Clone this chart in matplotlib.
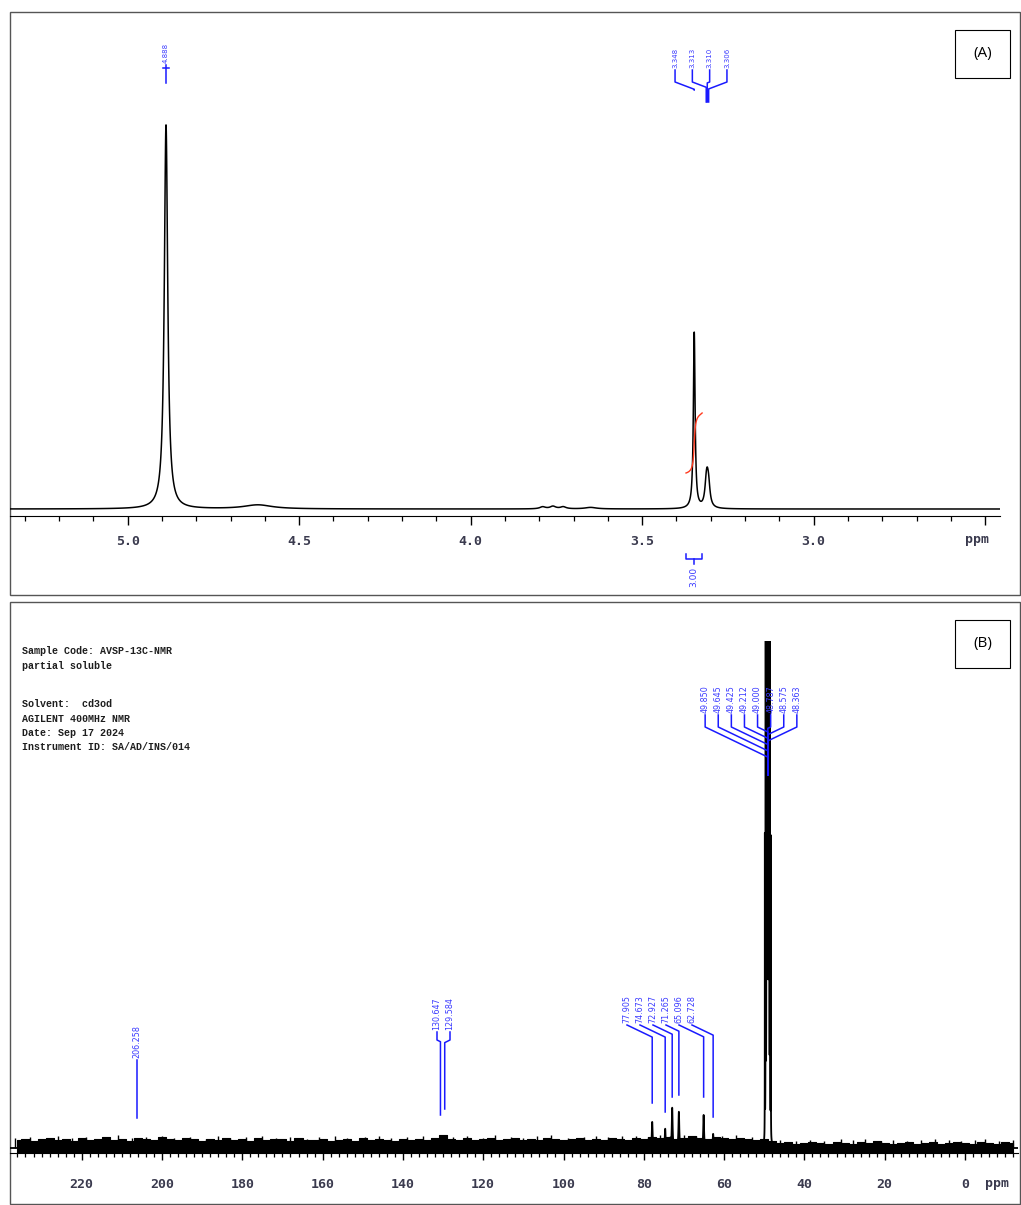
import numpy as np
import matplotlib.pyplot as plt
from matplotlib.patches import Rectangle
from matplotlib.ticker import FixedLocator, MultipleLocator

plt.rcParams["path.simplify"] = False

W, H = 1021, 1205

# ---------------- 1H spectrum (A) ----------------
h_shift = [4.888, 4.620, 3.790, 3.760, 3.730, 3.650, 3.348, 3.313, 3.310, 3.306]
h_height = [384, 4, 2, 2.5, 2, 1.5, 176, 17, 18, 17]
h_hwhm = [0.006, 0.05, 0.01, 0.01, 0.01, 0.02, 0.003, 0.005, 0.005, 0.005]
h_single = [4.888]
h_group = [3.348, 3.313, 3.310, 3.306]
h_ticks = [5.0, 4.5, 4.0, 3.5, 3.0, 2.5]
h_ticklabels = ["5.0", "4.5", "4.0", "3.5", "3.0", ""]
int_range = (3.372, 3.325)
int_value = "3.00"

# ---------------- 13C spectrum (B) ----------------
c_shift = [206.258, 130.647, 129.584, 77.905, 74.673, 72.927, 71.265, 65.096, 62.728]
c_height = [5, 6, 11, 26, 19, 40, 36, 33, 14]
c_solvent = [49.850, 49.645, 49.425, 49.212, 49.000, 48.787, 48.575, 48.363]
c_solvent_h = [300, 1200, 3000, 5000, 5000, 3000, 1200, 300]
c_ticks = [220, 200, 180, 160, 140, 120, 100, 80, 60, 40, 20, 0]

# baseline noise envelope, every 2 ppm from 236 to -12
noise_ppm = np.arange(236, -13, -2)
noise_top = [8, 9, 7, 9, 10, 8, 9, 7, 10, 8,
             9, 11, 8, 9, 7, 10, 9, 8, 11, 9,
             8, 10, 9, 7, 9, 8, 10, 8, 9, 7,
             10, 8, 9, 9, 7, 10, 8, 8, 9, 7,
             8, 9, 7, 10, 8, 9, 8, 7, 9, 8,
             9, 8, 10, 13, 9, 8, 10, 8, 9, 10,
             8, 9, 10, 8, 9, 8, 10, 9, 8, 9,
             10, 8, 9, 8, 10, 9, 8, 10, 9, 11,
             10, 11, 9, 10, 12, 10, 9, 11, 10, 9,
             10, 9, 8, 9, 7, 5, 6, 4, 5, 6,
             5, 4, 6, 5, 4, 6, 5, 7, 5, 4,
             5, 6, 4, 5, 6, 4, 5, 6, 5, 4,
             6, 5, 4, 6, 5]
noise_bot = [-7, -6, -8, -7, -6, -8, -7, -7, -6, -8,
             -7, -8, -6, -7, -8, -7, -6, -8, -7, -7,
             -8, -6, -7, -7, -8, -6, -7, -8, -7, -6,
             -7, -8, -7, -6, -8, -7, -7, -8, -6, -7,
             -8, -7, -6, -8, -7, -7, -8, -6, -7, -8,
             -7, -8, -7, -6, -8, -7, -8, -7, -7, -8,
             -8, -7, -8, -7, -8, -9, -7, -8, -8, -7,
             -8, -9, -7, -8, -8, -7, -9, -8, -8, -9,
             -8, -7, -9, -8, -8, -9, -7, -8, -9, -8,
             -9, -10, -9, -10, -11, -10, -9, -11, -10, -11,
             -10, -11, -10, -11, -10, -11, -10, -11, -11, -10,
             -11, -10, -11, -10, -11, -10, -11, -10, -11, -10,
             -11, -10, -11, -10, -11]
# individual noise spikes sticking out of the band
spike_up_ppm = [236.5, 233, 230, 226, 222.5, 219, 215, 211, 207.5, 204,
                200, 197, 193, 189, 186, 183, 179, 175, 171.5, 168,
                164, 161, 157, 154, 149.5, 146, 143, 139, 135, 131,
                127.5, 124, 120, 117, 113, 110, 106.5, 103, 99, 95,
                92, 89, 85.5, 82, 79, 76, 73.5, 70, 67, 60.5,
                57, 53, 46, 42, 38.5, 35, 31, 28, 25, 21,
                18, 14.5, 11, 7.5, 4, 1, -2.5, -5, -8.5, -12]
spike_up_h = [10, 11, 9, 12, 10, 11, 9, 13, 10, 11,
              12, 10, 11, 9, 12, 10, 11, 12, 10, 11,
              9, 11, 12, 10, 11, 12, 10, 11, 12, 10,
              11, 12, 10, 13, 11, 10, 12, 13, 10, 11,
              12, 11, 12, 12, 11, 13, 12, 13, 12, 12,
              13, 11, 8, 7, 8, 7, 9, 8, 9, 7,
              8, 7, 8, 9, 8, 7, 8, 9, 7, 8]
spike_dn_ppm = [234, 231, 228, 224, 216, 213, 209, 202, 198, 194,
                190, 184, 180, 177, 171, 166, 162, 159, 152, 148,
                144, 140, 134, 128, 125, 122, 115, 111, 105, 101,
                97, 93, 90, 84, 78, 74, 69, 63, 58, 55,
                44, 40, 33, 29, 24, 21, 16, 10, 6, 2,
                0, -4, -7, -11]
spike_dn_h = [-10, -9, -11, -10, -11, -9, -10, -10, -9, -11,
              -10, -11, -9, -10, -11, -10, -9, -11, -10, -9,
              -11, -10, -11, -10, -9, -11, -10, -11, -10, -12,
              -11, -10, -12, -11, -12, -11, -12, -12, -11, -12,
              -13, -12, -13, -12, -13, -13, -12, -13, -12, -13,
              -12, -13, -12, -13]

info_lines = ["Sample Code: AVSP-13C-NMR", "partial soluble",
              "Solvent:  cd3od", "AGILENT 400MHz NMR", "Date: Sep 17 2024",
              "Instrument ID: SA/AD/INS/014"]

BLUE_LINE = "#1a1aff"
BLUE_TEXT = "#3b3bff"
TICK_COL = "#3a3a4e"


def lorentz(x, shifts, heights, widths):
    y = np.zeros_like(x)
    for s, h, w in zip(shifts, heights, widths):
        y += h / (1 + ((x - s) / w) ** 2)
    return y


def frac(left, top, right, bottom):
    return [left / W, 1 - bottom / H, (right - left) / W, (bottom - top) / H]


# pixel <-> ppm maps for the two panels
def a_px(p):
    return 127.6 + (5.0 - p) * 343.0


def a_ppm(px):
    return 5.0 - (px - 127.6) / 343.0


def b_px(p):
    return 965.0 - p * 4.015


def b_ppm(px):
    return (965.0 - px) / 4.015


def fan(ax, to_px, to_ppm, base, peaks, center, step, y_txt, y_knee, slope, y_end, fs,
        target=None):
    n = len(peaks)
    for i, p in enumerate(peaks):
        lx = center + (i - (n - 1) / 2) * step
        tp = p if target is None else target
        pk = to_px(tp)
        ye = y_end[i] if np.ndim(y_end) else y_end
        ax.text(to_ppm(lx), base - y_txt, f"{p:.3f}", rotation=90, ha="center", va="bottom",
                fontsize=fs, color=BLUE_TEXT, clip_on=False, zorder=4)
        yk2 = y_knee + abs(pk - lx) * slope
        ax.plot([to_ppm(lx), to_ppm(lx), tp, tp],
                [base - y_txt - 2, base - y_knee, base - yk2, base - ye],
                color=BLUE_LINE, lw=1.1, clip_on=False, zorder=4)


def style_axis(ax, pad, lmaj, lmin):
    for s in ["top", "left", "right"]:
        ax.spines[s].set_visible(False)
    ax.spines["bottom"].set_color("black")
    ax.set_yticks([])
    ax.set_facecolor("none")
    ax.tick_params(axis="x", which="major", length=lmaj, width=1.0, pad=pad,
                   labelsize=9.5, labelcolor=TICK_COL)
    ax.tick_params(axis="x", which="minor", length=lmin, width=0.9)
    for t in ax.get_xticklabels():
        t.set_fontfamily("DejaVu Sans Mono")
        t.set_fontweight("bold")


fig = plt.figure(figsize=(W / 100, H / 100), dpi=100)

over = fig.add_axes([0, 0, 1, 1])
over.set_xlim(0, W)
over.set_ylim(H, 0)
over.axis("off")
over.add_patch(Rectangle((10, 12), 1010, 583, fill=False, lw=1, ec="#555555"))
over.add_patch(Rectangle((10, 602), 1010, 602, fill=False, lw=1, ec="#555555"))
for (bx, by), lab in zip([(955, 30), (955, 620)], ["(A)", "(B)"]):
    over.add_patch(Rectangle((bx, by), 55, 48, fc="white", ec="black", lw=0.8))
    over.text(bx + 27.5, by + 24, lab, ha="center", va="center", fontsize=11,
              family="Open Sans")
info_y = [651, 666, 704, 718.5, 733, 747.5]
for yy, line in zip(info_y, info_lines):
    over.text(22, yy, line, fontsize=7.2, family="Liberation Mono",
              weight="bold", va="center", color="#1e1e1e")

# ---------------- panel A ----------------
A_BASE = 509
axA = fig.add_axes(frac(10, 20, 1000, 516))
axA.set_xlim(a_ppm(10), a_ppm(1000))
axA.set_ylim(A_BASE - 516, A_BASE - 20)
axA.xaxis.set_major_locator(FixedLocator(h_ticks))
axA.set_xticklabels(h_ticklabels)
axA.xaxis.set_minor_locator(MultipleLocator(0.1))
style_axis(axA, 7.0, 6.5, 3.6)

xa = np.linspace(a_ppm(10), a_ppm(1000), 30000)
ya = lorentz(xa, h_shift, h_height, h_hwhm)
axA.plot(xa, ya, color="black", lw=1.1, zorder=3)

m = (xa <= int_range[0]) & (xa >= int_range[1])
cum = np.cumsum(ya[m])
cum = cum / cum[-1]
axA.plot(xa[m], 36 + 60 * cum, color="#ff3b1f", lw=1.0, zorder=4)

# peak labels
fan(axA, a_px, a_ppm, A_BASE, h_single, a_px(h_single[0]), 0, 63, 68, 0, 83, 5)
axA.plot([a_ppm(a_px(h_single[0]) - 3), a_ppm(a_px(h_single[0]) + 3)],
         [A_BASE - 68, A_BASE - 68], color=BLUE_LINE, lw=1.1, clip_on=False)
fan(axA, a_px, a_ppm, A_BASE, h_group, 701, 17.3, 68, 82, 0.38, [90, 102, 102, 102], 5)

# integral bracket and value
x0, x1 = a_px(int_range[0]), a_px(int_range[1])
xm = (x0 + x1) / 2
over.plot([x0, x0, x1, x1], [554, 559, 559, 554], color=BLUE_LINE, lw=1.1)
over.plot([xm, xm], [559, 564], color=BLUE_LINE, lw=1.1)
over.text(xm, 567, int_value, rotation=90, ha="center", va="top", fontsize=6.5,
          color=BLUE_TEXT)
over.text(977, 540, "ppm", ha="center", va="center", fontsize=9.5,
          family="DejaVu Sans Mono", weight="bold", color=TICK_COL)

# ---------------- panel B ----------------
B_BASE = 1148
axB = fig.add_axes(frac(10, 641, 1018, 1153))
axB.set_xlim(b_ppm(10), b_ppm(1018))
axB.set_ylim(B_BASE - 1153, B_BASE - 641)
axB.xaxis.set_major_locator(FixedLocator(c_ticks))
axB.set_xticklabels([str(t) for t in c_ticks])
axB.xaxis.set_minor_locator(MultipleLocator(2))
style_axis(axB, 13.0, 5.0, 3.0)

xb = np.linspace(b_ppm(10), b_ppm(1018), 60000)
yb = lorentz(xb, c_shift, c_height, [0.12] * len(c_shift))
yb += lorentz(xb, c_solvent, c_solvent_h, [0.015] * len(c_solvent))
axB.fill_between(noise_ppm, noise_bot, noise_top, step="mid", color="black", lw=0.8,
                 edgecolor="black", zorder=1)
axB.vlines(spike_up_ppm, 0, spike_up_h, color="black", lw=1.0, zorder=1)
axB.vlines(spike_dn_ppm, 0, spike_dn_h, color="black", lw=1.0, zorder=1)
axB.plot(xb, yb, color="black", lw=1.3, zorder=3)

fan(axB, b_px, b_ppm, B_BASE, [c_shift[0]], b_px(c_shift[0]), 0, 1058, 1060, 0, 1118, 5.8)
fan(axB, b_px, b_ppm, B_BASE, c_shift[1:3], 443.5, 13, 1030, 1040, 0.5, [1115, 1109], 5.8)
fan(axB, b_px, b_ppm, B_BASE, c_shift[3:], 659.5, 13, 1023, 1025, 0.48,
    [1103, 1112, 1097, 1095, 1097, 1117], 5.8)
fan(axB, b_px, b_ppm, B_BASE, c_solvent, 751, 13.1, 713, 727, 0.48, 775, 5.8,
    target=float(np.mean(c_solvent)))

over.text(997, 1183, "ppm", ha="center", va="center", fontsize=9.5,
          family="DejaVu Sans Mono", weight="bold", color=TICK_COL)

fig.savefig("out.png", dpi=100)
